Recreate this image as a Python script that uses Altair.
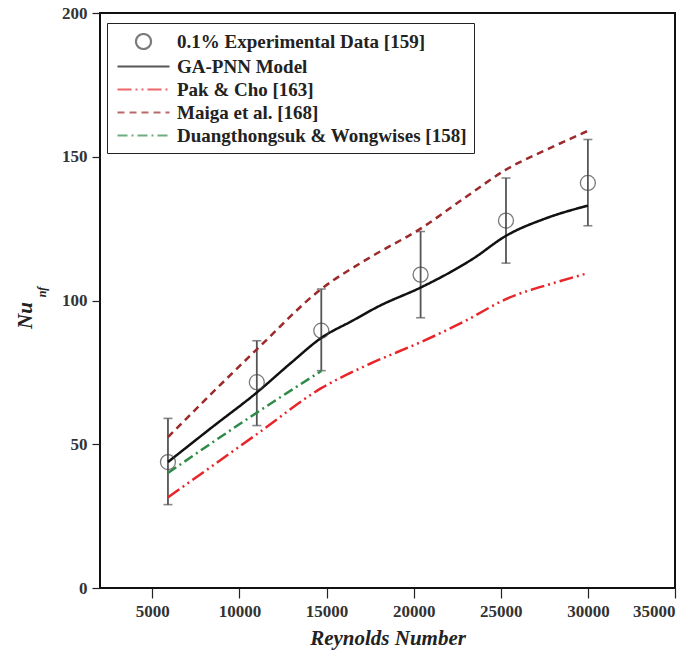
import altair as alt
import pandas as pd

# ---------------- data ----------------
series = [
    "0.1% Experimental Data [159]",
    "GA-PNN Model",
    "Pak & Cho [163]",
    "Maiga et al. [168]",
    "Duangthongsuk & Wongwises [158]",
]
colors = ["#444444", "#111111", "#e8262a", "#9c2a2a", "#2e8b47"]
dashes = [[1, 0], [1, 0], [14, 4, 2, 4, 2, 4], [7, 5], [10, 4, 2, 4]]

re_exp = [5900, 11000, 14700, 20400, 25300, 30000]
nu_exp = [43.8, 71.6, 89.5, 109, 127.8, 140.9]
nu_lo = [29, 56.5, 75.6, 94, 113, 126]
nu_hi = [59, 86, 104, 124, 142.6, 156]

re_model = [5900, 8450, 11000, 13000, 14700, 16500, 18000, 20400, 22000, 23400, 25300, 27600, 30000]
nu_model = [43.8, 56, 68, 78.5, 87, 93, 98, 104.5, 109.5, 114.5, 122.5, 128.6, 133]

re_pak = [5900, 11000, 14700, 17500, 20400, 23000, 25300, 28000, 30000]
nu_pak = [31.5, 53.5, 69.5, 78, 85.5, 93, 100.5, 106, 109.5]

re_maiga = [5900, 11000, 14700, 17500, 20400, 23000, 25300, 28000, 30000]
nu_maiga = [52.5, 83, 104, 115, 125, 136, 145.5, 153.5, 159]

re_duang = [5900, 11000, 14700]
nu_duang = [40, 61, 75.5]

x_ticks = [5000, 10000, 15000, 20000, 25000, 30000, 35000]
y_ticks = [0, 50, 100, 150, 200]

# ---------------- tables ----------------
exp_df = pd.DataFrame({"series": series[0], "Re": re_exp, "Nu": nu_exp,
                       "lo": nu_lo, "hi": nu_hi})
lines_df = pd.concat([
    pd.DataFrame({"series": series[1], "Re": re_model, "Nu": nu_model}),
    pd.DataFrame({"series": series[2], "Re": re_pak, "Nu": nu_pak}),
    pd.DataFrame({"series": series[3], "Re": re_maiga, "Nu": nu_maiga}),
    pd.DataFrame({"series": series[4], "Re": re_duang, "Nu": nu_duang}),
], ignore_index=True)

SERIF = "Liberation Serif"
circle_path = "M -0.75 0 A 0.75 0.75 0 1 0 0.75 0 A 0.75 0.75 0 1 0 -0.75 0 Z"
line_path = "M -2.6 0 L 2.6 0"
shapes = [circle_path, line_path, line_path, line_path, line_path]

x_enc = alt.X("Re:Q", scale=alt.Scale(domain=[2000, 35000], nice=False, zero=False),
              axis=alt.Axis(values=x_ticks, title="Reynolds Number", format="d",
                            tickSize=10, labelPadding=5, titlePadding=8))
y_axis = alt.Axis(values=y_ticks, title="Nu", tickSize=8, labelPadding=5,
                  titleAngle=270, titleX=-75, titleY=302, titleAlign="center",
                  titleBaseline="middle")
y_scale = alt.Scale(domain=[0, 200], nice=False)

legend = alt.Legend(
    title=None, orient="none", legendX=7, legendY=10,
    labelFont=SERIF, labelFontWeight="bold", labelFontSize=19, labelColor="#222",
    labelLimit=500,
    symbolSize=400, symbolStrokeWidth=2.2, labelOffset=22,
    padding=7, strokeColor="#222", fillColor="white", rowPadding=1,
    symbolOffset=18,
)
color_enc = alt.Color("series:N", scale=alt.Scale(domain=series, range=colors), legend=legend)
dash_enc = alt.StrokeDash("series:N", scale=alt.Scale(domain=series, range=dashes), legend=legend)
shape_enc = alt.Shape("series:N", scale=alt.Scale(domain=series, range=shapes), legend=legend)

err = alt.Chart(exp_df).mark_rule(color="#555", strokeWidth=1.8).encode(
    x=x_enc, y=alt.Y("lo:Q", scale=y_scale, axis=y_axis), y2="hi:Q")
cap_lo = alt.Chart(exp_df).mark_tick(color="#555", size=9, thickness=1.6, orient="horizontal").encode(
    x="Re:Q", y="lo:Q")
cap_hi = alt.Chart(exp_df).mark_tick(color="#555", size=9, thickness=1.6, orient="horizontal").encode(
    x="Re:Q", y="hi:Q")

lines = alt.Chart(lines_df).mark_line(strokeWidth=2.5, interpolate="monotone").encode(
    x="Re:Q", y="Nu:Q", color=color_enc, strokeDash=dash_enc, detail="series:N")

pts = alt.Chart(exp_df).mark_point(filled=False, size=400, strokeWidth=1.3).encode(
    x="Re:Q", y="Nu:Q", color=color_enc, shape=shape_enc)

sub = alt.Chart(pd.DataFrame({"t": ["nf"]})).mark_text(
    font=SERIF, fontWeight="bold", fontStyle="italic", fontSize=12, angle=270,
    color="#222").encode(text="t:N", x=alt.value(-58), y=alt.value(279))

chart = alt.layer(err, cap_lo, cap_hi, lines, pts, sub).properties(
    width=575, height=575,
    autosize=alt.AutoSizeParams(type="none"),
    padding={"left": 100, "top": 13, "right": 25, "bottom": 71},
).configure(background="white").configure_view(
    stroke="#111", strokeWidth=2
).configure_axis(
    domain=False, grid=False, tickColor="#222", tickWidth=1.2,
    labelFont=SERIF, labelFontWeight="bold", labelFontSize=17, labelColor="#333",
    titleFont=SERIF, titleFontWeight="bold", titleFontStyle="italic",
    titleFontSize=21, titleColor="#222",
)

chart.save("out.html", embed_options={"renderer": "svg", "actions": False})
